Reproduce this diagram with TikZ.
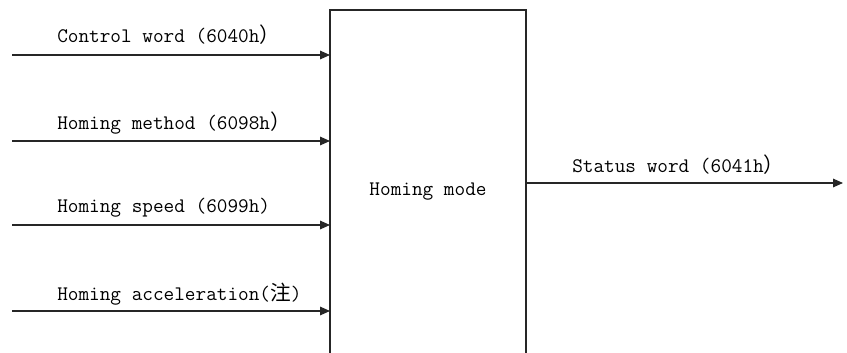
\documentclass[tikz,border=0pt]{standalone}
\usepackage{fontspec}
\newfontfamily\cjk{Noto Sans CJK SC}
\usetikzlibrary{arrows.meta}
\begin{document}
\begin{tikzpicture}[x=0.75pt, y=-0.75pt,
	sig/.style={-{Triangle[length=7.5pt, width=6.5pt]}, line width=0.8pt, color=black!85},
	lbl/.style={anchor=base west, inner sep=0pt, font=\fontsize{15.5}{18}\selectfont\ttfamily}]
	\useasboundingbox (0,0) rectangle (847,353);
	\clip (0,0) rectangle (847,353);
	% the mode block, open at the bottom of the page
	\node[draw, line width=0.8pt, color=black!85, text=black, inner sep=0pt, outer sep=0pt,
		minimum width=147pt, minimum height=273pt, font=\fontsize{15.5}{18}\selectfont\ttfamily]
		(mode) at (428,192) {Homing mode};
	% inputs
	\coordinate (in0) at (12,55);
	\coordinate (in1) at (12,141);
	\coordinate (in2) at (12,225);
	\coordinate (in3) at (12,311);
	\draw[sig] (in0) -- (in0 -| mode.west);
	\draw[sig] (in1) -- (in1 -| mode.west);
	\draw[sig] (in2) -- (in2 -| mode.west);
	\draw[sig] (in3) -- (in3 -| mode.west);
	\node[lbl] (ctrl) at (57,43) {Control word (6040h{\cjk ）}};
	\node[lbl] (meth) at (57,130) {Homing method (6098h{\cjk ）}};
	\node[lbl] (spd) at (57,213) {Homing speed (6099h)};
	\node[lbl] (acc) at (57,300) {Homing acceleration({\cjk 注})};
	% output
	\coordinate (out) at (843,183);
	\draw[sig] (mode.east |- out) -- (out);
	\node[lbl] (stat) at (572,172) {Status word (6041h{\cjk ）}};
\end{tikzpicture}
\end{document}
